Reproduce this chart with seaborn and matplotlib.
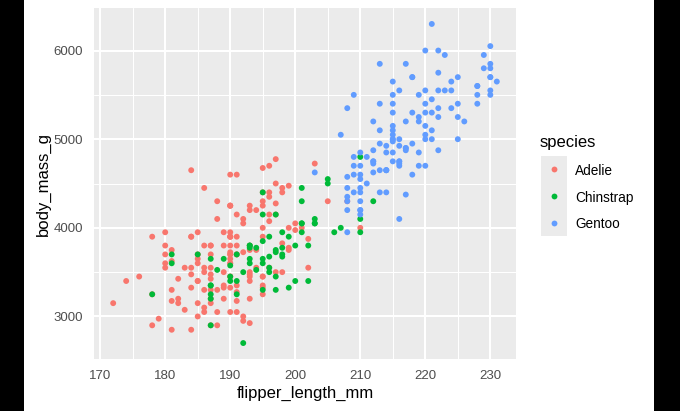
import matplotlib
matplotlib.use("Agg")
import matplotlib.pyplot as plt
from matplotlib.patches import Rectangle
from matplotlib.lines import Line2D
import seaborn as sns
import pandas as pd

# ---------------- data (Palmer penguins) ----------------
species_names = ["Adelie", "Chinstrap", "Gentoo"]
palette_colors = ["#F8766D", "#00BA38", "#619CFF"]

adelie_flipper = [
    181, 186, 195,
    193, 190, 181, 195, 193, 190, 186, 180, 182, 191,
    198, 185, 195, 197, 184, 194, 174, 180, 189, 185,
    180, 187, 183, 187, 172, 180, 178, 178, 188, 184,
    195, 196, 190, 180, 181, 184, 182, 195, 186, 196,
    185, 190, 182, 179, 190, 191, 186, 188, 190, 200,
    187, 191, 186, 193, 181, 194, 185, 195, 185, 192,
    184, 192, 195, 188, 190, 198, 190, 190, 196, 197,
    190, 195, 191, 184, 187, 195, 189, 196, 187, 193,
    191, 194, 190, 189, 189, 190, 202, 205, 185, 186,
    187, 208, 190, 196, 178, 192, 192, 203, 183, 190,
    193, 184, 199, 190, 181, 197, 198, 191, 193, 197,
    191, 196, 188, 199, 189, 189, 187, 198, 176, 202,
    186, 199, 191, 195, 191, 210, 190, 197, 193, 199,
    187, 190, 191, 200, 185, 193, 193, 187, 188, 190,
    192, 185, 190, 184, 195, 193, 187, 201,
]
adelie_mass = [
    3750, 3800, 3250,
    3450, 3650, 3625, 4675, 3475, 4250, 3300, 3700, 3200, 3800,
    4400, 3700, 3450, 4500, 3325, 4200, 3400, 3600, 3800, 3950,
    3800, 3800, 3550, 3200, 3150, 3950, 3250, 3900, 3300, 3900,
    3325, 4150, 3950, 3550, 3300, 4650, 3150, 3900, 3100, 4400,
    3000, 4600, 3425, 2975, 3450, 4150, 3500, 4300, 3450, 4050,
    2900, 3700, 3550, 3800, 2850, 3750, 3150, 4400, 3600, 4050,
    2850, 2950, 3350, 4100, 3050, 4450, 3600, 3900, 3550, 4150,
    3700, 4250, 3700, 3900, 3550, 4000, 3200, 4700, 3800, 4200,
    3350, 3550, 3800, 3500, 3950, 3600, 3550, 4300, 3400, 4450,
    3300, 4300, 3700, 4350, 2900, 4100, 3725, 4725, 3075, 4250,
    2925, 3550, 3750, 3900, 3175, 4775, 3825, 4600, 3200, 4275,
    3900, 4075, 2900, 3775, 3350, 3325, 3150, 3500, 3450, 3875,
    3050, 4000, 3275, 4300, 3050, 4000, 3325, 3500, 3500, 4475,
    3425, 3900, 3175, 3975, 3400, 4250, 3400, 3475, 3050, 3725,
    3000, 3650, 4250, 3475, 3450, 3750, 3700, 4000,
]

chinstrap_flipper = [
    192, 196, 193, 188, 197, 198, 178, 197, 195, 198,
    193, 194, 185, 201, 190, 201, 197, 181, 190, 195,
    181, 191, 187, 193, 195, 197, 200, 200, 191, 205,
    187, 201, 187, 203, 195, 199, 195, 210, 192, 205,
    210, 187, 196, 196, 196, 201, 190, 212, 187, 198,
    199, 201, 193, 203, 187, 197, 191, 203, 202, 194,
    206, 189, 195, 207, 202, 193, 210, 198,
]
chinstrap_mass = [
    3500, 3900, 3650, 3525, 3725, 3950, 3250, 3750, 4150, 3700,
    3800, 3775, 3700, 4050, 3575, 4050, 3300, 3700, 3450, 4400,
    3600, 3400, 2900, 3800, 3300, 4150, 3400, 3800, 3700, 4550,
    3200, 4300, 3350, 4100, 3600, 3900, 3850, 4800, 2700, 4500,
    3950, 3650, 3550, 3500, 3675, 4450, 3400, 4300, 3250, 3675,
    3325, 3950, 3600, 4050, 3350, 3450, 3250, 4050, 3800, 3525,
    3950, 3650, 3650, 4000, 3400, 3775, 4100, 3775,
]

gentoo_flipper = [
    211, 230, 210, 218, 215, 210, 211, 219, 209, 215,
    214, 216, 214, 213, 210, 217, 210, 221, 209, 222,
    218, 215, 213, 215, 215, 215, 216, 215, 210, 220,
    222, 209, 207, 230, 220, 220, 213, 219, 208, 208,
    208, 225, 210, 216, 222, 217, 210, 225, 213, 215,
    210, 220, 210, 225, 217, 220, 208, 220, 208, 224,
    208, 221, 214, 231, 219, 230, 214, 229, 220, 223,
    216, 221, 221, 217, 216, 230, 209, 220, 215, 223,
    212, 221, 212, 224, 212, 228, 218, 218, 212, 230,
    218, 228, 212, 224, 214, 226, 216, 222, 203, 225,
    219, 228, 215, 228, 216, 215, 210, 219, 208, 209,
    216, 229, 213, 230, 217, 230, 217, 222, 214,
    215, 222, 212, 213,
]
gentoo_mass = [
    4500, 5700, 4450, 5700, 5400, 4550, 4800, 5200, 4400, 5150,
    4650, 5550, 4650, 5850, 4200, 5850, 4150, 6300, 4800, 5350,
    5700, 5000, 4400, 5050, 5000, 5100, 4100, 5650, 4600, 5550,
    5250, 4700, 5050, 6050, 5150, 5400, 4950, 5250, 4350, 5350,
    3950, 5700, 4300, 4750, 5550, 4900, 4200, 5400, 5100, 5300,
    4850, 5300, 4400, 5000, 4900, 5050, 4300, 5000, 4450, 5550,
    4200, 5300, 4400, 5650, 4700, 5700, 4650, 5800, 4700, 5550,
    4750, 5000, 5100, 5200, 4700, 5800, 4600, 6000, 4750, 5950,
    4625, 5450, 4725, 5350, 4750, 5600, 4600, 5300, 4875, 5550,
    4950, 5400, 4750, 5650, 4850, 5200, 4925, 4875, 4625, 5250,
    4850, 5600, 4975, 5500, 4725, 5500, 4700, 5500, 4575, 5500,
    5000, 5950, 4650, 5500, 4375, 5850, 4875, 6000, 4925,
    4850, 5750, 5200, 5400,
]

x_ticks = [170, 180, 190, 200, 210, 220, 230]
x_minor = [175, 185, 195, 205, 215, 225]
y_ticks = [3000, 4000, 5000, 6000]
y_minor = [3500, 4500, 5500]
x_label = "flipper_length_mm"
y_label = "body_mass_g"
legend_title = "species"

# ---------------- frame ----------------
frames = []
for name, fl, bm in [("Adelie", adelie_flipper, adelie_mass),
                     ("Chinstrap", chinstrap_flipper, chinstrap_mass),
                     ("Gentoo", gentoo_flipper, gentoo_mass)]:
    assert len(fl) == len(bm), (name, len(fl), len(bm))
    frames.append(pd.DataFrame({"flipper_length_mm": fl, "body_mass_g": bm, "species": name}))
df = pd.concat(frames, ignore_index=True)

# ---------------- figure ----------------
sns.set_theme(style="darkgrid")
plt.rcParams["font.family"] = ["Liberation Sans", "DejaVu Sans"]

W, H, DPI = 680, 411, 100
fig = plt.figure(figsize=(W / DPI, H / DPI), dpi=DPI, facecolor="white")

def fx(px):
    return px / W

def fy(py):
    return 1 - py / H

# black side bars
fig.patches.append(Rectangle((0, 0), fx(24), 1, transform=fig.transFigure,
                             facecolor="black", edgecolor="none", zorder=-10))
fig.patches.append(Rectangle((fx(654), 0), 1 - fx(654), 1, transform=fig.transFigure,
                             facecolor="black", edgecolor="none", zorder=-10))

pl, pr, pt, pb = 94, 516, 8, 359
ax = fig.add_axes([fx(pl), fy(pb), fx(pr - pl), (pb - pt) / H])
ax.set_facecolor("#EBEBEB")

palette = dict(zip(species_names, palette_colors))
sns.scatterplot(data=df, x="flipper_length_mm", y="body_mass_g", hue="species",
                palette=palette, hue_order=species_names, s=18, linewidth=0,
                alpha=1, legend=False, ax=ax, zorder=3)

xmin, xmax = df.flipper_length_mm.min(), df.flipper_length_mm.max()
ymin, ymax = df.body_mass_g.min(), df.body_mass_g.max()
xr, yr = xmax - xmin, ymax - ymin
ax.set_xlim(xmin - 0.05 * xr, xmax + 0.05 * xr)
ax.set_ylim(ymin - 0.05 * yr, ymax + 0.05 * yr)

ax.set_xticks(x_ticks)
ax.set_yticks(y_ticks)
ax.set_xticks(x_minor, minor=True)
ax.set_yticks(y_minor, minor=True)
ax.grid(which="major", color="white", linewidth=1.5)
ax.grid(which="minor", color="white", linewidth=0.75)
ax.set_axisbelow(True)
for s in ax.spines.values():
    s.set_visible(False)

ax.tick_params(axis="both", which="major", length=3.2, width=1.0, color="#333333",
               labelsize=9.5, labelcolor="#4D4D4D", pad=4.6)
ax.tick_params(axis="both", which="minor", length=0)

ax.set_xlabel(x_label, fontsize=12.0, color="black")
ax.set_ylabel(y_label, fontsize=12.0, color="black")
ax.xaxis.set_label_coords(0.5, (pb - 393) / (pb - pt))
ax.xaxis.label.set_va("center")
ax.yaxis.set_label_coords((43 - pl) / (pr - pl), 0.5)
ax.yaxis.label.set_va("center")

# ---------------- legend (ggplot style) ----------------
fig.text(fx(540), fy(143), legend_title, fontsize=12.0, color="black",
         ha="left", va="center")
key_top, key_h = 156, 26.7
key_left, key_w = 541, 26
fig.patches.append(Rectangle((fx(key_left), fy(key_top + 3 * key_h)), fx(key_w), 3 * key_h / H,
                             transform=fig.transFigure, facecolor="#EBEBEB",
                             edgecolor="none", zorder=1))
for i, (name, col) in enumerate(zip(species_names, palette_colors)):
    cy = key_top + (i + 0.5) * key_h
    fig.add_artist(Line2D([fx(key_left + key_w / 2)], [fy(cy)], marker="o", markersize=4.2,
                          markerfacecolor=col, markeredgewidth=0, linestyle="none",
                          transform=fig.transFigure, zorder=2))
    fig.text(fx(575), fy(cy + 1.5), name, fontsize=9.8, color="black",
             ha="left", va="center")

fig.savefig("out.png", dpi=DPI, facecolor="white")
